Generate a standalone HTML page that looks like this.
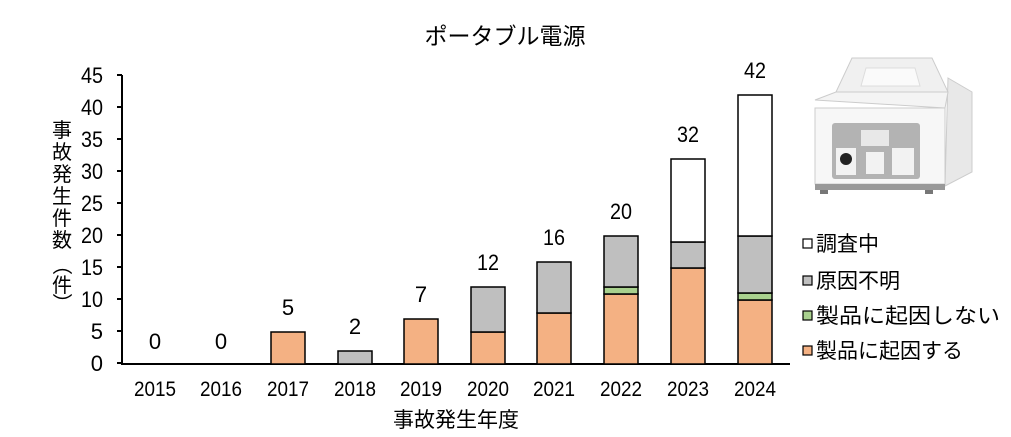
<!DOCTYPE html>
<html><head><meta charset="utf-8"><style>
html,body{margin:0;padding:0;background:#fff;}
svg{display:block;font-family:"Liberation Sans","Noto Sans CJK JP",sans-serif;}
</style></head><body>
<svg width="1011" height="437" viewBox="0 0 1011 437" xmlns="http://www.w3.org/2000/svg">
<text x="505" y="44" font-size="23" text-anchor="middle" font-family="'Noto Sans CJK JP',sans-serif">ポータブル電源</text>
<g stroke="#000" stroke-width="2">
<line x1="122" y1="75" x2="122" y2="364"/>
<line x1="121" y1="364" x2="790" y2="364"/>
<line x1="117" y1="75" x2="122" y2="75"/><line x1="117" y1="107" x2="122" y2="107"/>
<line x1="117" y1="139" x2="122" y2="139"/><line x1="117" y1="171" x2="122" y2="171"/>
<line x1="117" y1="203" x2="122" y2="203"/><line x1="117" y1="235" x2="122" y2="235"/>
<line x1="117" y1="267" x2="122" y2="267"/><line x1="117" y1="299" x2="122" y2="299"/>
<line x1="117" y1="331" x2="122" y2="331"/><line x1="117" y1="363" x2="122" y2="363"/>
</g>
<g font-size="22" text-anchor="end" lengthAdjust="spacingAndGlyphs">
<text x="103" y="83" textLength="22" lengthAdjust="spacingAndGlyphs">45</text>
<text x="103" y="115" textLength="22" lengthAdjust="spacingAndGlyphs">40</text>
<text x="103" y="147" textLength="22" lengthAdjust="spacingAndGlyphs">35</text>
<text x="103" y="179" textLength="22" lengthAdjust="spacingAndGlyphs">30</text>
<text x="103" y="211" textLength="22" lengthAdjust="spacingAndGlyphs">25</text>
<text x="103" y="243" textLength="22" lengthAdjust="spacingAndGlyphs">20</text>
<text x="103" y="275" textLength="22" lengthAdjust="spacingAndGlyphs">15</text>
<text x="103" y="307" textLength="22" lengthAdjust="spacingAndGlyphs">10</text>
<text x="103" y="339">5</text>
<text x="103" y="371">0</text>
</g>
<g font-size="20" text-anchor="middle" font-family="'Noto Sans CJK JP',sans-serif">
<text x="62" y="137">事</text><text x="62" y="159">故</text><text x="62" y="181">発</text>
<text x="62" y="203">生</text><text x="62" y="225">件</text><text x="62" y="247">数</text>
<text x="62" y="272" transform="rotate(90 62 265)">（</text><text x="62" y="292">件</text>
<text x="62" y="310" transform="rotate(90 62 303)">）</text>
</g>
<g stroke="#000" stroke-width="1.5">
<rect x="271" y="332" width="34" height="32" fill="#f4b183"/>
<rect x="338" y="351" width="34" height="13" fill="#bfbfbf"/>
<rect x="404" y="319" width="34" height="45" fill="#f4b183"/>
<rect x="471" y="332" width="34" height="32" fill="#f4b183"/>
<rect x="471" y="287" width="34" height="45" fill="#bfbfbf"/>
<rect x="537" y="313" width="34" height="51" fill="#f4b183"/>
<rect x="537" y="262" width="34" height="51" fill="#bfbfbf"/>
<rect x="604" y="294" width="34" height="70" fill="#f4b183"/>
<rect x="604" y="287" width="34" height="7" fill="#a9d18e"/>
<rect x="604" y="236" width="34" height="51" fill="#bfbfbf"/>
<rect x="671" y="268" width="34" height="96" fill="#f4b183"/>
<rect x="671" y="242" width="34" height="26" fill="#bfbfbf"/>
<rect x="671" y="159" width="34" height="83" fill="#fff"/>
<rect x="738" y="300" width="34" height="64" fill="#f4b183"/>
<rect x="738" y="293" width="34" height="7" fill="#a9d18e"/>
<rect x="738" y="236" width="34" height="57" fill="#bfbfbf"/>
<rect x="738" y="95" width="34" height="141" fill="#fff"/>
</g>
<g font-size="22" text-anchor="middle">
<text x="155" y="349">0</text><text x="221" y="349">0</text><text x="288" y="315">5</text>
<text x="355" y="334">2</text><text x="421" y="302">7</text>
<text x="488" y="270" textLength="22" lengthAdjust="spacingAndGlyphs">12</text>
<text x="554" y="245" textLength="22" lengthAdjust="spacingAndGlyphs">16</text>
<text x="621" y="219" textLength="22" lengthAdjust="spacingAndGlyphs">20</text>
<text x="688" y="142" textLength="22" lengthAdjust="spacingAndGlyphs">32</text>
<text x="755" y="78" textLength="22" lengthAdjust="spacingAndGlyphs">42</text>
</g>
<g font-size="21" text-anchor="middle">
<text x="155" y="396" textLength="42" lengthAdjust="spacingAndGlyphs">2015</text>
<text x="221" y="396" textLength="42" lengthAdjust="spacingAndGlyphs">2016</text>
<text x="288" y="396" textLength="42" lengthAdjust="spacingAndGlyphs">2017</text>
<text x="355" y="396" textLength="42" lengthAdjust="spacingAndGlyphs">2018</text>
<text x="421" y="396" textLength="42" lengthAdjust="spacingAndGlyphs">2019</text>
<text x="488" y="396" textLength="42" lengthAdjust="spacingAndGlyphs">2020</text>
<text x="554" y="396" textLength="42" lengthAdjust="spacingAndGlyphs">2021</text>
<text x="621" y="396" textLength="42" lengthAdjust="spacingAndGlyphs">2022</text>
<text x="688" y="396" textLength="42" lengthAdjust="spacingAndGlyphs">2023</text>
<text x="755" y="396" textLength="42" lengthAdjust="spacingAndGlyphs">2024</text>
</g>
<text x="456" y="427" font-size="21" text-anchor="middle" font-family="'Noto Sans CJK JP',sans-serif">事故発生年度</text>
<g stroke="#000" stroke-width="1.2">
<rect x="803" y="239" width="9" height="9" fill="#fff"/>
<rect x="803" y="276" width="9" height="9" fill="#bfbfbf"/>
<rect x="803" y="311" width="9" height="9" fill="#a9d18e"/>
<rect x="803" y="346" width="9" height="9" fill="#f4b183"/>
</g>
<g font-size="21" font-family="'Noto Sans CJK JP',sans-serif">
<text x="816" y="251">調査中</text><text x="816" y="288">原因不明</text>
<text x="816" y="323" textLength="184" lengthAdjust="spacingAndGlyphs">製品に起因しない</text>
<text x="816" y="358">製品に起因する</text>
</g>
<g>
<path d="M852 58 L932 58 L948 92 L836 92 Z" fill="#f0f0f0" stroke="#ccc"/>
<path d="M866 68 L915 68 L920 86 L861 86 Z" fill="#fafafa" stroke="#ddd"/>
<path d="M948 78 L972 92 L972 172 L945 186 Z" fill="#e8e8e8" stroke="#ccc"/>
<path d="M815 100 L836 92 L948 92 L945 108 Z" fill="#f4f4f4" stroke="#ccc"/>
<rect x="815" y="108" width="130" height="76" fill="#f7f7f7" stroke="#ccc"/>
<rect x="832" y="123" width="88" height="56" fill="#b3b3b3" rx="3"/>
<rect x="861" y="130" width="28" height="16" fill="#e8e8e8"/>
<rect x="836" y="148" width="20" height="27" fill="#f2f2f2"/>
<circle cx="846" cy="159" r="6" fill="#222"/>
<rect x="866" y="152" width="18" height="22" fill="#f2f2f2"/>
<rect x="892" y="148" width="22" height="27" fill="#f2f2f2"/>
<rect x="815" y="184" width="130" height="6" fill="#999"/>
<rect x="820" y="190" width="8" height="4" fill="#777"/><rect x="925" y="190" width="8" height="4" fill="#777"/>
</g>
</svg>
</body></html>
